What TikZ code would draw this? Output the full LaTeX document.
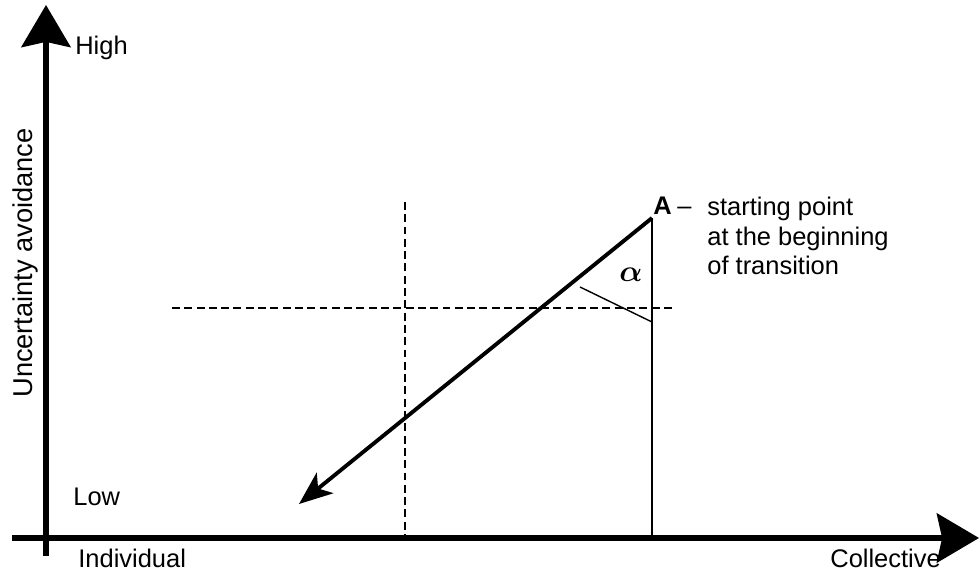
\documentclass[tikz,border=0pt]{standalone}
\usepackage{bm}
\usepackage{fontspec}
\setmainfont{Liberation Sans}
\usetikzlibrary{arrows.meta}

\tikzset{
  axis/.style={line width=2.9pt, -{Stealth[length=24pt, width=28pt, inset=3pt]}},
  guide/.style={dash pattern=on 4.5pt off 2.5pt, line width=0.8pt},
  fine/.style={line width=0.8pt},
  trend/.style={line width=2.2pt, -{Stealth[length=19pt, width=15pt, inset=5pt]}},
  lbl/.style={inner sep=0pt, anchor=base west}
}

\begin{document}
\begin{tikzpicture}[x=0.02cm, y=-0.02cm, font=\fontsize{14.5}{17}\selectfont]
  \useasboundingbox (0,0) rectangle (979,573);

  % Coordinates
  \coordinate (Ybot) at (46,556);
  \coordinate (Ytop) at (46,5);
  \coordinate (Xleft) at (12,538);
  \coordinate (Xright) at (979,538);
  \coordinate (A) at (652,218);
  \coordinate (T) at (299,504);
  \coordinate (F) at (652,538);
  \coordinate (V1) at (405,202);
  \coordinate (V2) at (405,538);
  \coordinate (H1) at (172,308);
  \coordinate (H2) at (672,308);
  \coordinate (M1) at (580,287);
  \coordinate (M2) at (652,322);

  % Drawing
  \draw[axis] (Ybot) -- (Ytop);
  \draw[axis] (Xleft) -- (Xright);
  \draw[guide] (V1) -- (V2);
  \draw[guide] (H1) -- (H2);
  \draw[fine] (A) -- (F);
  \draw[fine] (M1) -- (M2);
  \draw[trend] (A) -- (T);

  \node[lbl] (high) at (75,55) {High};
  \node[lbl] (low) at (73,505) {Low};
  \node[lbl] (indiv) at (78,567) {Individual};
  \node[lbl] (coll) at (830,567) {Collective};
  \node[lbl, rotate=90, font=\fontsize{15.5}{18}\selectfont] (ua) at (32,398) {Uncertainty avoidance};
  \node[inner sep=0pt, font=\fontsize{18}{20}\selectfont] (alpha) at (631,275) {$\bm{\alpha}$};
  \node[lbl] (Alab) at (653,215) {\textbf{A}};
  \node[lbl] (dash) at (677,215) {--};
  % base of a multi-line node sits on its last line
  \node[lbl, align=left] (note) at (707,275) {starting point\\at the beginning\\of transition};
\end{tikzpicture}
\end{document}
